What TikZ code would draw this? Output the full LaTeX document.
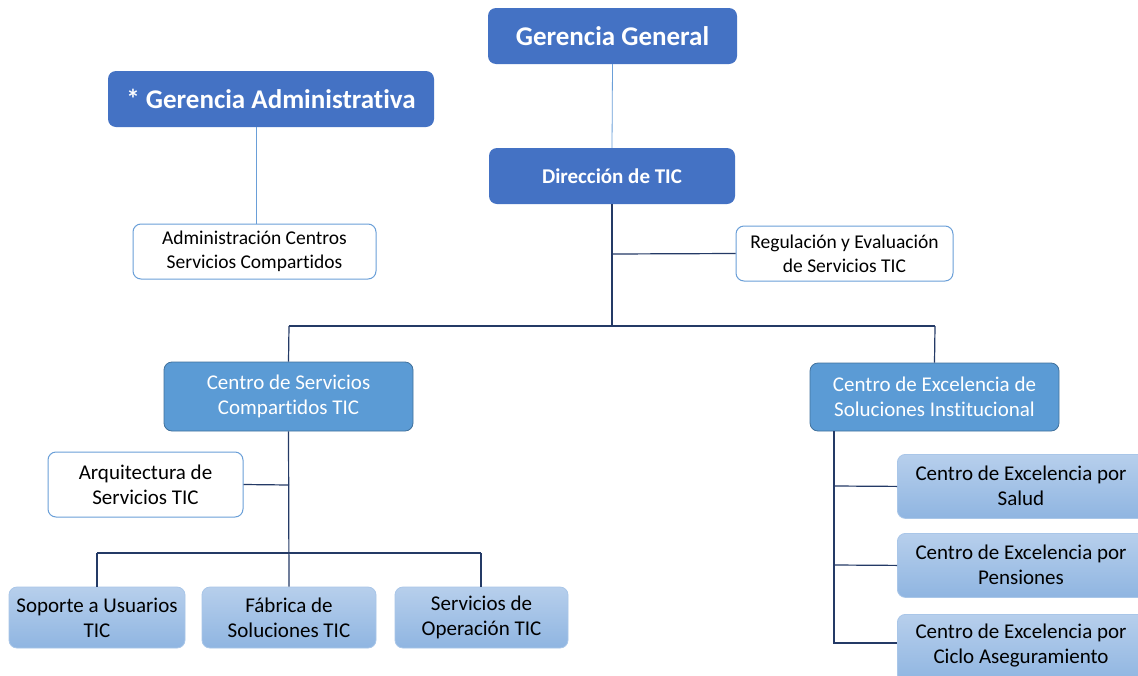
\documentclass[tikz,border=0pt]{standalone}
\usepackage{fontspec}
\setmainfont{Carlito}[Ligatures={NoCommon}]
\begin{document}
\begin{tikzpicture}[x=1pt,y=-1pt,
  dark/.style={draw=none,fill=hdr,rounded corners=8pt,text=white,font=\bfseries,align=center,inner sep=0pt},
  mid/.style={draw=midb,line width=0.8pt,fill=mid,rounded corners=8pt,text=white,align=center,inner sep=0pt,font=\fontsize{21}{25}\selectfont},
  wbox/.style={draw=wb,line width=1pt,fill=white,rounded corners=8pt,text=black,align=center,inner sep=0pt,font=\fontsize{19.5}{24}\selectfont},
  lbox/.style={draw=lb,line width=0.8pt,top color=ltop,bottom color=lbot,rounded corners=8pt,text=black,align=center,inner sep=0pt,font=\fontsize{21}{25}\selectfont},
  conn/.style={draw=navy,line width=1.2pt},
  lconn/.style={draw=wb,line width=0.8pt}]
\definecolor{hdr}{HTML}{4472C4}
\definecolor{mid}{HTML}{5B9BD5}
\definecolor{midb}{HTML}{41719C}
\definecolor{wb}{HTML}{6A9FD8}
\definecolor{lb}{HTML}{A9C6E8}
\definecolor{ltop}{HTML}{B7CFEC}
\definecolor{lbot}{HTML}{8FB5E1}
\definecolor{navy}{HTML}{243A66}
\clip (0,0) rectangle (1138,675);
\fill[white] (0,0) rectangle (1138,675);
% nodes
\node[dark,minimum width=249,minimum height=56,font=\bfseries\fontsize{27}{32}\selectfont] (gg) at (612.5,36) {Gerencia General};
\node[dark,minimum width=326,minimum height=56,font=\bfseries\fontsize{27}{32}\selectfont] (ga) at (271,99) {* Gerencia Administrativa};
\node[dark,minimum width=246,minimum height=56,font=\bfseries\fontsize{21}{25}\selectfont] (dt) at (612,176) {Dirección de TIC};
\node[wbox,minimum width=243,minimum height=55] (ac) at (254.5,251.5) {Administración Centros\\Servicios Compartidos};
\node[wbox,minimum width=217,minimum height=55] (re) at (844.5,253.5) {Regulación y Evaluación\\de Servicios TIC};
\node[mid,minimum width=249,minimum height=69] (cs) at (288.5,396.5) {Centro de Servicios\\Compartidos TIC};
\node[mid,minimum width=249,minimum height=68] (ce) at (934.5,397) {Centro de Excelencia de\\Soluciones Institucional};
\node[wbox,minimum width=195,minimum height=65,font=\fontsize{21}{25}\selectfont] (aq) at (145.5,484.5) {Arquitectura de\\Servicios TIC};
\node[lbox,minimum width=176,minimum height=61] (so) at (97,617.5) {Soporte a Usuarios\\TIC};
\node[lbox,minimum width=174,minimum height=61] (fa) at (289,617.5) {Fábrica de\\Soluciones TIC};
\node[lbox,minimum width=173,minimum height=61] (op) at (481.5,617.5) {Servicios de\\Operación TIC};
\node[lbox,minimum width=250,minimum height=64,anchor=north west] (s1) at (897,454) {};
\node[font=\fontsize{21}{25}\selectfont,align=center] (t1) at (1021,486) {Centro de Excelencia por\\Salud};
\node[lbox,minimum width=250,minimum height=64,anchor=north west] (s2) at (897,533) {};
\node[font=\fontsize{21}{25}\selectfont,align=center] (t2) at (1021,565) {Centro de Excelencia por\\Pensiones};
\node[lbox,minimum width=250,minimum height=68,anchor=north west] (s3) at (897,614) {};
\node[font=\fontsize{21}{25}\selectfont,align=center] (t3) at (1021,646) {Centro de Excelencia por\\Ciclo Aseguramiento};
% connectors
\draw[lconn] (gg.south) -- (dt.north);
\draw[lconn] (256,127) coordinate (gab) -- (256,224) coordinate (act);
\draw[conn] (dt.south) -- (612,326) coordinate (h1);
\draw[conn] (612,254) -- (re.west);
\draw[conn] (289,326) -- (935,326);
\draw[conn] (289,326) -- (cs.north);
\draw[conn] (935,326) -- (ce.north);
\draw[conn] (cs.south) -- (fa.north);
\draw[conn] (289,485) -- (aq.east);
\draw[conn] (97,553) -- (481,553);
\draw[conn] (97,553) -- (so.north);
\draw[conn] (481,553) -- (481,587);
\draw[conn] (834,431) -- (834,643) -- (s3.west |- 0,643);
\draw[conn] (834,486) -- (s1.west);
\draw[conn] (834,565) -- (s2.west);
\end{tikzpicture}
\end{document}
